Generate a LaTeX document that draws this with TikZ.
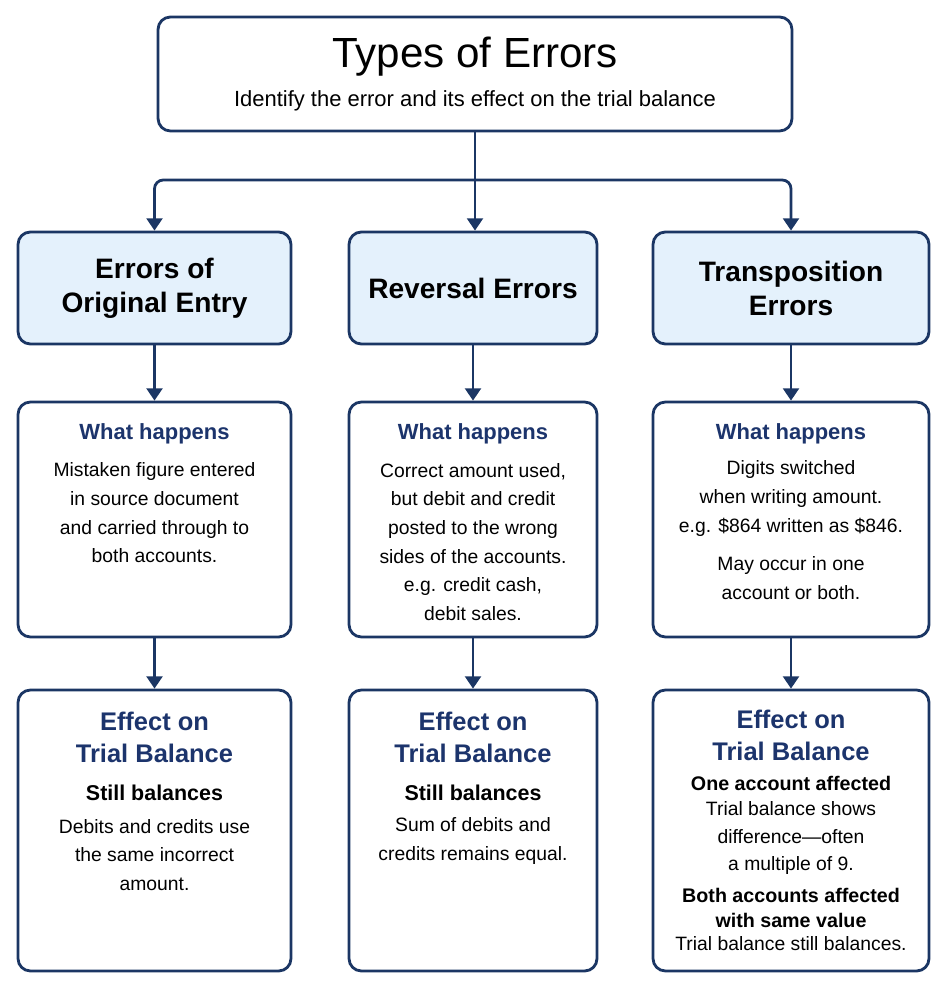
\documentclass[tikz,border=0pt]{standalone}
\usepackage{fontspec}
\setmainfont{Liberation Sans}
\usetikzlibrary{arrows.meta,positioning}
\definecolor{navy}{RGB}{27,54,100}
\definecolor{paleblue}{RGB}{228,241,252}
\definecolor{headblue}{RGB}{28,52,108}
\begin{document}
\begin{tikzpicture}[x=0.02cm,y=-0.02cm,
	box/.style={draw=navy,line width=1.6pt,rounded corners=7pt,fill=white,inner sep=0pt},
	hdrbox/.style={box,fill=paleblue,align=center,
		font=\fontsize{16}{19.3}\selectfont\bfseries},
	arr/.style={navy,line width=1.6pt,-{Triangle[width=9pt,length=7pt]}},
	head/.style={text=headblue,font=\fontsize{12.5}{14}\selectfont\bfseries,inner sep=0pt},
	effhead/.style={text=headblue,align=center,inner sep=0pt,
		font=\fontsize{14.5}{18.1}\selectfont\bfseries},
	sub/.style={align=center,inner sep=0pt,font=\fontsize{12.2}{14.2}\selectfont\bfseries},
	body/.style={align=center,inner sep=0pt,font=\fontsize{11}{16.3}\selectfont}]
\useasboundingbox (0,0) rectangle (947,989);

% title
\node[box,minimum width=12.68cm,minimum height=2.28cm] (title) at (475,74) {};
\node[inner sep=0pt,font=\fontsize{24}{28}\selectfont] (ttl) at (475,57) {Types of Errors};
\node[inner sep=0pt,font=\fontsize{12.5}{15}\selectfont] (subttl) at (475,101)
	{Identify the error and its effect on the trial balance};

% error types
\node[hdrbox,minimum width=5.46cm,minimum height=2.24cm] (hdr1) at (154.5,288) {Errors of\\Original Entry};
\node[hdrbox,minimum width=4.96cm,minimum height=2.24cm] (hdr2) at (473,288) {Reversal Errors};
\node[hdrbox,minimum width=5.52cm,minimum height=2.24cm] (hdr3) at (791,288) {Transposition\\Errors};

% what happens
\node[box,minimum width=5.46cm,minimum height=4.7cm] (what1) at (154.5,519.5) {};
\node[box,minimum width=4.96cm,minimum height=4.7cm] (what2) at (473,519.5) {};
\node[box,minimum width=5.52cm,minimum height=4.7cm] (what3) at (791,519.5) {};

% effect on trial balance
\node[box,minimum width=5.46cm,minimum height=5.62cm] (eff1) at (154.5,830.5) {};
\node[box,minimum width=4.96cm,minimum height=5.62cm] (eff2) at (473,830.5) {};
\node[box,minimum width=5.52cm,minimum height=5.62cm] (eff3) at (791,830.5) {};

% texts in column 1
\node[head] (wh1) at (154.5,434) {What happens};
\node[body] (wt1) at (154.5,513) {Mistaken figure entered\\in source document\\and carried through to\\both accounts.};
\node[effhead] (eh1) at (154.5,737) {Effect on\\Trial Balance};
\node[sub] (st1) at (154.5,793) {Still balances};
\node[body] (et1) at (154.5,855) {Debits and credits use\\the same incorrect\\amount.};

% texts in column 2
\node[head] (wh2) at (473,434) {What happens};
\node[body] (wt2) at (473,542) {Correct amount used,\\but debit and credit\\posted to the wrong\\sides of the accounts.\\e.g. credit cash,\\debit sales.};
\node[effhead] (eh2) at (473,737) {Effect on\\Trial Balance};
\node[sub] (st2) at (473,793) {Still balances};
\node[body] (et2) at (473,841) {Sum of debits and\\credits remains equal.};

% texts in column 3
\node[head] (wh3) at (791,434) {What happens};
\node[body] (wt3) at (791,498.5) {Digits switched\\when writing amount.\\e.g. \$864 written as \$846.};
\node[body] (wt3b) at (791,578) {May occur in one\\account or both.};
\node[effhead] (eh3) at (791,735) {Effect on\\Trial Balance};
\node[sub,font=\fontsize{11.2}{14.2}\selectfont\bfseries] (st3) at (791,783) {One account affected};
\node[body,font=\fontsize{11}{15.9}\selectfont] (et3) at (791,838) {Trial balance shows\\difference—often\\a multiple of 9.};
\node[sub,font=\fontsize{11.2}{14.2}\selectfont\bfseries] (st3b) at (791,907.5) {Both accounts affected\\with same value};
\node[body] (et3b) at (791,944) {Trial balance still balances.};

% connectors
\coordinate (split) at (475,180);
\draw[arr] (title.south) -- (title.south |- hdr2.north);
\draw[arr,rounded corners=5pt] (split) -| (hdr1.north);
\draw[arr,rounded corners=5pt] (split) -| (hdr3.north);
\foreach \i in {1,2,3}{
	\draw[arr] (hdr\i.south) -- (what\i.north);
	\draw[arr] (what\i.south) -- (eff\i.north);
}
\end{tikzpicture}
\end{document}
